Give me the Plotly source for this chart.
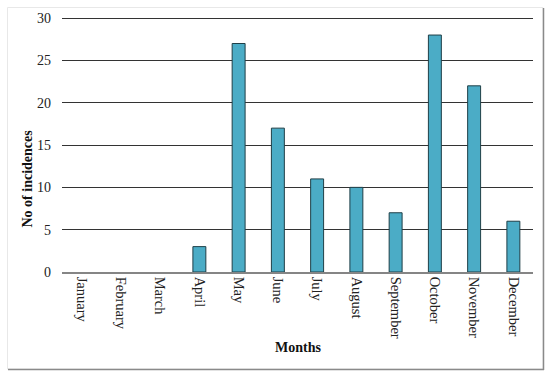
import plotly.graph_objects as go

months = ["January", "February", "March", "April", "May", "June", "July",
          "August", "September", "October", "November", "December"]
incidences = [0, 0, 0, 3, 27, 17, 11, 10, 7, 28, 22, 6]
y_ticks = [0, 5, 10, 15, 20, 25, 30]
y_max = 30.25

font_family = "Liberation Serif, Times New Roman, serif"

W, H = 550, 375
# plot area in page pixels: x 62..533, y 16..272
L, T = 62, 16
R = W - 533
B = H - 272
pw, ph = W - L - R, H - T - B

def px(x):
    return (x - L) / pw

def py(y):
    return (H - B - y) / ph

fig = go.Figure()
fig.add_trace(go.Bar(
    x=months, y=incidences, width=0.33,
    marker=dict(color="#4BACC6",
                line=dict(color="#1F3F47",
                          width=[0 if v == 0 else 1 for v in incidences])),
))

fig.update_layout(
    width=W, height=H,
    margin=dict(l=L, r=R, t=T, b=B, pad=0),
    paper_bgcolor="white", plot_bgcolor="white",
    showlegend=False,
    font=dict(family=font_family, size=14, color="#222"),
    xaxis=dict(
        automargin=False,
        tickangle=90, showgrid=False, showline=True, linecolor="#858585",
        linewidth=1.5, ticks="", tickfont=dict(size=14.5),
    ),
    yaxis=dict(
        automargin=False,
        range=[0, y_max], tickvals=y_ticks, showgrid=True, gridcolor="#333333",
        gridwidth=1.3, zeroline=False, showline=False, ticks="",
        tickfont=dict(size=14), ticklabelstandoff=10,
    ),
    annotations=[
        dict(text="<b>No of incidences</b>", xref="paper", yref="paper",
             x=px(26.5), y=py(179), xanchor="center", yanchor="middle",
             textangle=-90, showarrow=False, font=dict(size=14, color="#111")),
        dict(text="<b>Months</b>", xref="paper", yref="paper",
             x=px(297.5), y=py(347.5), xanchor="center", yanchor="middle",
             showarrow=False, font=dict(size=14, color="#111")),
    ],
    shapes=[
        dict(type="rect", xref="paper", yref="paper",
             x0=px(7.5), x1=px(543), y0=py(369), y1=py(7.5),
             line=dict(color="#e8e8e8", width=1)),
        dict(type="line", xref="paper", yref="paper",
             x0=px(543.5), x1=px(543.5), y0=py(370), y1=py(8),
             line=dict(color="#8a8a8a", width=1.5)),
        dict(type="line", xref="paper", yref="paper",
             x0=px(8), x1=px(544), y0=py(369.5), y1=py(369.5),
             line=dict(color="#8a8a8a", width=1.5)),
    ],
)

fig.write_html("out.html", config={"displayModeBar": False},
               post_script="document.body.style.margin='0px';")
